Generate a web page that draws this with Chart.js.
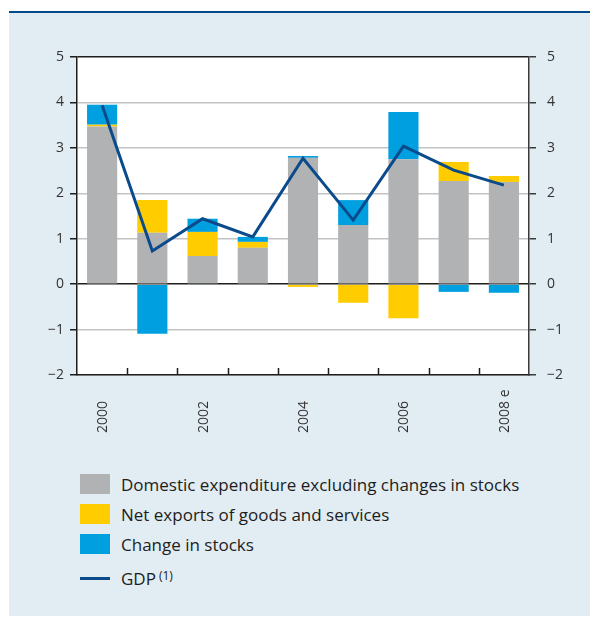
<!DOCTYPE html>
<html>
<head>
<meta charset="utf-8">
<script src="https://cdn.jsdelivr.net/npm/chart.js@4.4.1/dist/chart.umd.min.js"></script>
<style>
  html, body { margin: 0; padding: 0; background: #fff; }
  body { width: 593px; height: 617px; position: relative; overflow: hidden; font-family: 'Open Sans', sans-serif; }
  #panel { position: absolute; left: 9px; top: 11px; width: 581px; height: 605px; background: #e1ecf3; border-top: 2px solid #004a8a; box-sizing: border-box; }
  #wrap { position: absolute; left: 0; top: 0; width: 593px; height: 460px; }
  #legend { position: absolute; left: 80px; top: 474px; color: #1d1d1b; font-size: 17px; }
  .row { display: flex; align-items: center; height: 20px; margin-bottom: 10px; }
  .swatch { width: 30px; height: 20px; margin-right: 11px; }
  .row.line { margin-top: 14px; }
  .row.line .swatch { height: 3px; }
  sup { font-size: 12px; position: relative; top: -3px; margin-left: 3px; }
</style>
</head>
<body>
<div id="panel"></div>
<div id="wrap"><canvas id="chart" width="593" height="460"></canvas></div>
<div id="legend"></div>
<script>
// Years on the x axis (odd years carry no label)
const years = ['2000', '2001', '2002', '2003', '2004', '2005', '2006', '2007', '2008 e'];
const yearLabels = ['2000', '', '2002', '', '2004', '', '2006', '', '2008 e'];

// Contributions to GDP growth, percentage points
const domestic = [3.47, 1.13, 0.62, 0.80, 2.78, 1.30, 2.75, 2.27, 2.25];
const netExports = [0.04, 0.72, 0.53, 0.13, -0.06, -0.41, -0.75, 0.42, 0.13];
const stocks = [0.44, -1.09, 0.29, 0.11, 0.04, 0.55, 1.04, -0.17, -0.19];
const gdp = [3.94, 0.73, 1.44, 1.04, 2.77, 1.41, 3.04, 2.51, 2.18];

const yTicks = [-2, -1, 0, 1, 2, 3, 4, 5];

const colors = {
    domestic: '#b1b2b4',
    netExports: '#ffcc00',
    stocks: '#009fe0',
    gdp: '#0b4a8b'
};

const fontFamily = "'Open Sans', sans-serif";
const ink = '#1d1d1b';

function fmt(v) {
    return v < 0 ? '\u2212' + Math.abs(v) : String(v);
}

// White plot area behind the bars
const plotBackground = {
    id: 'plotBackground',
    beforeDraw(chart) {
        const a = chart.chartArea;
        chart.ctx.save();
        chart.ctx.fillStyle = '#ffffff';
        chart.ctx.fillRect(a.left, a.top, a.right - a.left, a.bottom - a.top);
        chart.ctx.restore();
    }
};

// Draws the inward tick marks on the x axis and the rotated year labels
const xAxisDecor = {
    id: 'xAxisDecor',
    afterDraw(chart) {
        const ctx = chart.ctx;
        const x = chart.scales.x;
        const area = chart.chartArea;
        ctx.save();
        ctx.strokeStyle = ink;
        ctx.lineWidth = 1.5;
        for (let i = 1; i < years.length; i++) {
            const px = Math.round((x.getPixelForValue(i - 1) + x.getPixelForValue(i)) / 2) + 0.5;
            ctx.beginPath();
            ctx.moveTo(px, area.bottom);
            ctx.lineTo(px, area.bottom - 7);
            ctx.stroke();
        }
        ctx.fillStyle = '#333';
        ctx.font = '14px ' + fontFamily;
        ctx.textAlign = 'left';
        ctx.textBaseline = 'middle';
        yearLabels.forEach((lab, i) => {
            if (!lab) return;
            ctx.save();
            ctx.translate(x.getPixelForValue(i) + 1, 433);
            ctx.rotate(-Math.PI / 2);
            ctx.fillText(lab, 0, 0);
            ctx.restore();
        });
        ctx.restore();
    }
};

const gridColor = (c) => {
    const v = c.tick && c.tick.value;
    if (v === 0 || v === 5) return ink;
    return '#c3c3c3';
};

const chart = new Chart(document.getElementById('chart'), {
    type: 'bar',
    data: {
        labels: years,
        datasets: [
            {
                type: 'line',
                label: 'GDP',
                data: gdp,
                borderColor: colors.gdp,
                borderWidth: 3,
                pointRadius: 0,
                tension: 0,
                order: 0,
                stack: 'gdp'
            },
            {
                label: 'Domestic expenditure excluding changes in stocks',
                data: domestic,
                backgroundColor: colors.domestic,
                stack: 'contrib',
                order: 1
            },
            {
                label: 'Net exports of goods and services',
                data: netExports,
                backgroundColor: colors.netExports,
                stack: 'contrib',
                order: 1
            },
            {
                label: 'Change in stocks',
                data: stocks,
                backgroundColor: colors.stocks,
                stack: 'contrib',
                order: 1
            }
        ]
    },
    options: {
        responsive: false,
        animation: false,
        categoryPercentage: 0.6,
        barPercentage: 1,
        layout: { padding: { top: 57, left: 0, right: 0, bottom: 0 } },
        plugins: {
            legend: { display: false },
            tooltip: { enabled: false }
        },
        scales: {
            x: {
                stacked: true,
                grid: { display: false, drawTicks: false },
                ticks: { display: false },
                border: { color: ink, width: 1.5 },
                afterFit: (s) => { s.height = 85; }
            },
            y: {
                stacked: true,
                position: 'left',
                min: -2,
                max: 5,
                afterBuildTicks: (s) => { s.ticks = yTicks.map(v => ({ value: v })); },
                grid: { color: gridColor, lineWidth: 1.5, tickLength: 7, tickColor: ink },
                border: { color: ink, width: 1.5 },
                ticks: {
                    color: '#333',
                    padding: 6,
                    font: { family: fontFamily, size: 14 },
                    callback: (v) => fmt(v)
                },
                afterFit: (s) => { s.width = 77; }
            },
            y2: {
                position: 'right',
                min: -2,
                max: 5,
                afterBuildTicks: (s) => { s.ticks = yTicks.map(v => ({ value: v })); },
                grid: { drawOnChartArea: false, lineWidth: 1.5, tickLength: 7, color: '#3a3a3a', tickColor: '#3a3a3a' },
                border: { color: '#3a3a3a', width: 1.5 },
                ticks: {
                    color: '#333',
                    padding: 11,
                    font: { family: fontFamily, size: 14 },
                    callback: (v) => fmt(v)
                },
                afterFit: (s) => { s.width = 64; }
            }
        }
    },
    plugins: [plotBackground, xAxisDecor]
});

// Legend built from the datasets: bars first, then the line
const legend = document.getElementById('legend');
const items = chart.data.datasets.slice(1).concat(chart.data.datasets[0]);
items.forEach(ds => {
    const row = document.createElement('div');
    const isLine = ds.type === 'line';
    row.className = isLine ? 'row line' : 'row';
    const sw = document.createElement('div');
    sw.className = 'swatch';
    sw.style.background = isLine ? ds.borderColor : ds.backgroundColor;
    const txt = document.createElement('span');
    txt.textContent = ds.label;
    row.appendChild(sw);
    row.appendChild(txt);
    if (isLine) {
        const sup = document.createElement('sup');
        sup.textContent = '(1)';
        row.appendChild(sup);
    }
    legend.appendChild(row);
});
</script>
</body>
</html>
